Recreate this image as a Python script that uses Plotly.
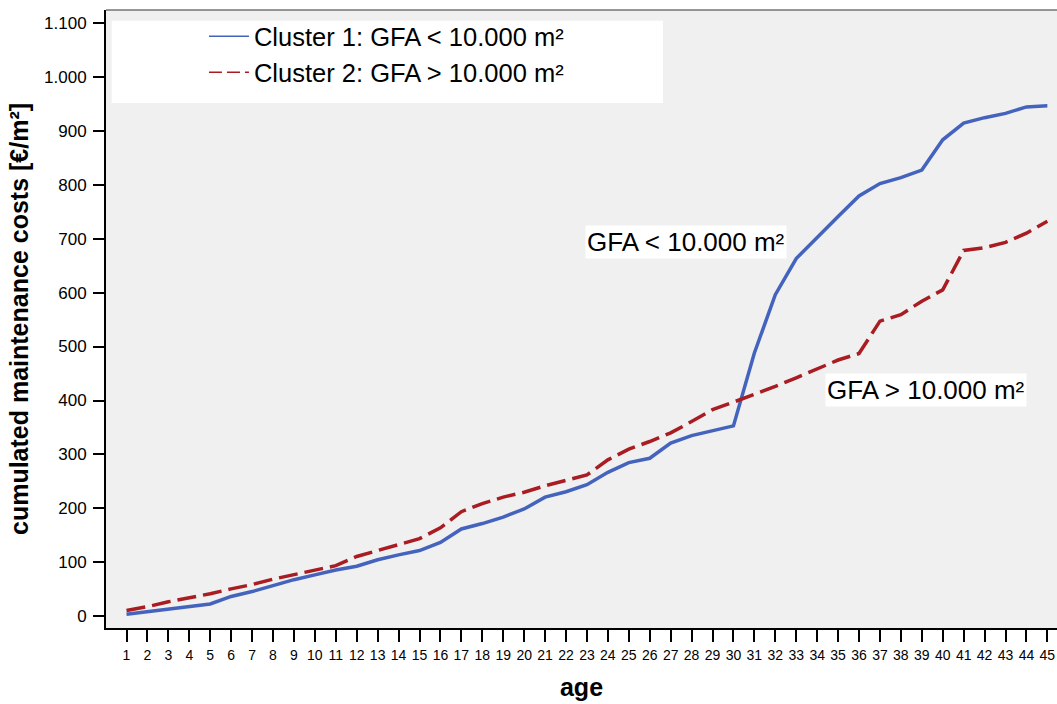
import plotly.graph_objects as go

# ---- data ----
age = list(range(1, 46))
cluster1 = [4, 9, 14, 18, 23, 37, 46, 57, 68, 77, 86, 93, 105, 114, 122, 137, 162, 172, 184, 199,
            221, 231, 244, 267, 285, 293, 321, 335, 344, 353, 488, 596, 663, 703, 741, 779, 802, 813,
            827, 883, 914, 924, 932, 944, 946]
cluster2 = [11, 18, 27, 34, 42, 51, 59, 69, 77, 86, 94, 111, 122, 133, 144, 164, 194, 209, 221, 230,
            242, 252, 262, 290, 310, 324, 340, 361, 383, 397, 411, 426, 442, 458, 475, 487, 547, 559,
            584, 605, 678, 683, 693, 710, 732]
series_names = ["Cluster 1: GFA < 10.000 m²", "Cluster 2: GFA > 10.000 m²"]
label_texts = ["GFA < 10.000 m²", "GFA > 10.000 m²"]
label_x = [27.73, 39.2]
label_y = [694, 419]
y_tickvals = [0, 100, 200, 300, 400, 500, 600, 700, 800, 900, 1000, 1100]
y_ticktext = ["0", "100", "200", "300", "400", "500", "600", "700", "800", "900", "1.000", "1.100"]
x_tickvals = age
x_ticktext = [str(a) for a in age]

BLUE = "#4463BD"
RED = "#A81C22"
FONT = "Liberation Sans"

fig = go.Figure()
# actual curves
fig.add_trace(go.Scatter(x=age, y=cluster1, mode="lines", showlegend=False,
                         line=dict(color=BLUE, width=3.5)))
fig.add_trace(go.Scatter(x=age, y=cluster2, mode="lines", showlegend=False,
                         line=dict(color=RED, width=3.5, dash="19px,7px")))
# legend entries (thin lines as in the reference)
fig.add_trace(go.Scatter(x=[None], y=[None], mode="lines", name=series_names[0],
                         line=dict(color=BLUE, width=1.5)))
fig.add_trace(go.Scatter(x=[None], y=[None], mode="lines", name=series_names[1],
                         line=dict(color=RED, width=1.5, dash="13px,5px")))

for t, xx, yy in zip(label_texts, label_x, label_y):
    fig.add_annotation(x=xx, y=yy, text=t, showarrow=False, bgcolor="white",
                       borderpad=1, font=dict(family=FONT, size=26, color="black"))

# white legend box
fig.add_shape(type="rect", xref="x domain", yref="y domain",
              x0=0.006, x1=0.5857, y0=0.8495, y1=0.9827,
              fillcolor="white", line=dict(width=0), layer="below")
# top border
fig.add_shape(type="line", xref="x domain", yref="y domain", x0=0, x1=1, y0=1, y1=1,
              line=dict(color="#333333", width=1))

fig.update_layout(
    width=1057, height=704,
    margin=dict(l=106, r=0, t=10, b=76, autoexpand=False),
    paper_bgcolor="white", plot_bgcolor="#F0F0F0",
    font=dict(family=FONT, color="black"),
    legend=dict(x=0.103, y=0.995, xanchor="left", yanchor="top",
                bgcolor="rgba(0,0,0,0)", font=dict(family=FONT, size=25.5, color="black"),
                tracegroupgap=0, itemwidth=40),
)
fig.update_xaxes(range=[0.02, 45.46], tickmode="array", tickvals=x_tickvals, ticktext=x_ticktext,
                 ticks="outside", ticklen=12, tickwidth=2, tickcolor="black",
                 showline=True, linewidth=2, linecolor="black", showgrid=False, zeroline=False,
                 tickfont=dict(family=FONT, size=14, color="black"), ticklabelstandoff=1,
                 title=dict(text="<b>age</b>", font=dict(family=FONT, size=25, color="black"), standoff=17),
                 automargin=False)
fig.update_yaxes(range=[-21.5, 1123.5], tickmode="array", tickvals=y_tickvals, ticktext=y_ticktext,
                 ticks="outside", ticklen=11, tickwidth=2, tickcolor="black",
                 showline=True, linewidth=2, linecolor="black", showgrid=False, zeroline=False,
                 tickfont=dict(family=FONT, size=17, color="black"), ticklabelstandoff=3,
                 title=dict(text="<b>cumulated maintenance costs [€/m²]</b>",
                            font=dict(family=FONT, size=25, color="black"), standoff=8),
                 automargin=False)

fig.write_html("out.html", config={"displayModeBar": False},
               post_script="document.body.style.margin='0';document.body.style.overflow='hidden';")
